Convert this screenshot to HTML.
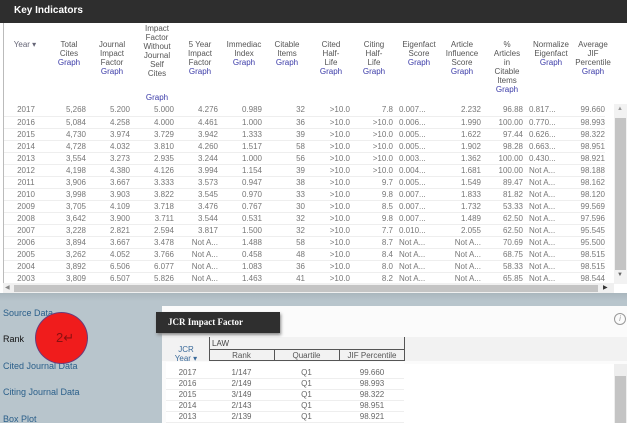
<!DOCTYPE html><html><head><style>
*{margin:0;padding:0;box-sizing:border-box}
body{width:627px;height:423px;overflow:hidden;background:#fff;font-family:"Liberation Sans",sans-serif;position:relative}
.a{position:absolute}
.hd{font-size:8px;color:#555;text-align:center;line-height:9px}
.g{color:#3a3aa8}
table.d{position:absolute;left:4px;top:104px;border-collapse:collapse;font-size:8px;color:#777}
table.d td{height:12px;border-bottom:1px solid #eee;text-align:right;padding:0;white-space:nowrap;overflow:hidden}
table.d td.l{text-align:left;padding-left:6px}
.side{font-size:9px;color:#2a5f8a}
table.r{position:absolute;left:166px;top:367px;border-collapse:collapse;font-size:8px;color:#666}
table.r td{height:11px;text-align:center;border-bottom:1px solid #eee}
</style></head><body>
<div class="a" style="left:0;top:0;width:627px;height:23px;background:#2e2e2e"></div>
<div class="a" style="left:14px;top:5px;color:#fff;font-weight:bold;font-size:10px">Key Indicators</div>
<div class="a" style="left:3px;top:23px;width:1px;height:262px;background:#bbb"></div>
<div class="a hd" style="left:6px;top:40px;width:38px;color:#667">Year ▾</div>
<div class="a hd" style="left:50px;top:40px;width:38px">Total<br>Cites<br><span class="g">Graph</span></div>
<div class="a hd" style="left:92px;top:40px;width:40px">Journal<br>Impact<br>Factor<br><span class="g">Graph</span></div>
<div class="a hd" style="left:136px;top:24px;width:42px">Impact<br>Factor<br>Without<br>Journal<br>Self<br>Cites</div>
<div class="a hd g" style="left:136px;top:93px;width:42px">Graph</div>
<div class="a hd" style="left:180px;top:40px;width:40px">5 Year<br>Impact<br>Factor<br><span class="g">Graph</span></div>
<div class="a hd" style="left:222px;top:40px;width:44px">Immediac<br>Index<br><span class="g">Graph</span></div>
<div class="a hd" style="left:268px;top:40px;width:38px">Citable<br>Items<br><span class="g">Graph</span></div>
<div class="a hd" style="left:312px;top:40px;width:38px">Cited<br>Half-<br>Life<br><span class="g">Graph</span></div>
<div class="a hd" style="left:355px;top:40px;width:38px">Citing<br>Half-<br>Life<br><span class="g">Graph</span></div>
<div class="a hd" style="left:397px;top:40px;width:44px">Eigenfact<br>Score<br><span class="g">Graph</span></div>
<div class="a hd" style="left:441px;top:40px;width:42px">Article<br>Influence<br>Score<br><span class="g">Graph</span></div>
<div class="a hd" style="left:487px;top:40px;width:40px">%<br>Articles<br>in<br>Citable<br>Items<br><span class="g">Graph</span></div>
<div class="a hd" style="left:529px;top:40px;width:44px">Normalize<br>Eigenfact<br><span class="g">Graph</span></div>
<div class="a hd" style="left:573px;top:40px;width:40px">Average<br>JIF<br>Percentile<br><span class="g">Graph</span></div>
<table class="d">
<colgroup><col style="width:44px"><col style="width:38px"><col style="width:44px"><col style="width:44px"><col style="width:44px"><col style="width:44px"><col style="width:43px"><col style="width:45px"><col style="width:43px"><col style="width:42px"><col style="width:46px"><col style="width:42px"><col style="width:44px"><col style="width:38px"></colgroup>
<tr><td style="text-align:center">2017</td><td>5,268</td><td>5.200</td><td>5.000</td><td>4.276</td><td>0.989</td><td>32</td><td>&gt;10.0</td><td>7.8</td><td class="l">0.007...</td><td>2.232</td><td>96.88</td><td class="l">0.817...</td><td>99.660</td></tr>
<tr><td style="text-align:center">2016</td><td>5,084</td><td>4.258</td><td>4.000</td><td>4.461</td><td>1.000</td><td>36</td><td>&gt;10.0</td><td>&gt;10.0</td><td class="l">0.006...</td><td>1.990</td><td>100.00</td><td class="l">0.770...</td><td>98.993</td></tr>
<tr><td style="text-align:center">2015</td><td>4,730</td><td>3.974</td><td>3.729</td><td>3.942</td><td>1.333</td><td>39</td><td>&gt;10.0</td><td>&gt;10.0</td><td class="l">0.005...</td><td>1.622</td><td>97.44</td><td class="l">0.626...</td><td>98.322</td></tr>
<tr><td style="text-align:center">2014</td><td>4,728</td><td>4.032</td><td>3.810</td><td>4.260</td><td>1.517</td><td>58</td><td>&gt;10.0</td><td>&gt;10.0</td><td class="l">0.005...</td><td>1.902</td><td>98.28</td><td class="l">0.663...</td><td>98.951</td></tr>
<tr><td style="text-align:center">2013</td><td>3,554</td><td>3.273</td><td>2.935</td><td>3.244</td><td>1.000</td><td>56</td><td>&gt;10.0</td><td>&gt;10.0</td><td class="l">0.003...</td><td>1.362</td><td>100.00</td><td class="l">0.430...</td><td>98.921</td></tr>
<tr><td style="text-align:center">2012</td><td>4,198</td><td>4.380</td><td>4.126</td><td>3.994</td><td>1.154</td><td>39</td><td>&gt;10.0</td><td>&gt;10.0</td><td class="l">0.004...</td><td>1.681</td><td>100.00</td><td class="l">Not A...</td><td>98.188</td></tr>
<tr><td style="text-align:center">2011</td><td>3,906</td><td>3.667</td><td>3.333</td><td>3.573</td><td>0.947</td><td>38</td><td>&gt;10.0</td><td>9.7</td><td class="l">0.005...</td><td>1.549</td><td>89.47</td><td class="l">Not A...</td><td>98.162</td></tr>
<tr><td style="text-align:center">2010</td><td>3,998</td><td>3.903</td><td>3.822</td><td>3.545</td><td>0.970</td><td>33</td><td>&gt;10.0</td><td>9.8</td><td class="l">0.007...</td><td>1.833</td><td>81.82</td><td class="l">Not A...</td><td>98.120</td></tr>
<tr><td style="text-align:center">2009</td><td>3,705</td><td>4.109</td><td>3.718</td><td>3.476</td><td>0.767</td><td>30</td><td>&gt;10.0</td><td>8.5</td><td class="l">0.007...</td><td>1.732</td><td>53.33</td><td class="l">Not A...</td><td>99.569</td></tr>
<tr><td style="text-align:center">2008</td><td>3,642</td><td>3.900</td><td>3.711</td><td>3.544</td><td>0.531</td><td>32</td><td>&gt;10.0</td><td>9.8</td><td class="l">0.007...</td><td>1.489</td><td>62.50</td><td class="l">Not A...</td><td>97.596</td></tr>
<tr><td style="text-align:center">2007</td><td>3,228</td><td>2.821</td><td>2.594</td><td>3.817</td><td>1.500</td><td>32</td><td>&gt;10.0</td><td>7.7</td><td class="l">0.010...</td><td>2.055</td><td>62.50</td><td class="l">Not A...</td><td>95.545</td></tr>
<tr><td style="text-align:center">2006</td><td>3,894</td><td>3.667</td><td>3.478</td><td>Not A...</td><td>1.488</td><td>58</td><td>&gt;10.0</td><td>8.7</td><td class="l">Not A...</td><td>Not A...</td><td>70.69</td><td class="l">Not A...</td><td>95.500</td></tr>
<tr><td style="text-align:center">2005</td><td>3,262</td><td>4.052</td><td>3.766</td><td>Not A...</td><td>0.458</td><td>48</td><td>&gt;10.0</td><td>8.4</td><td class="l">Not A...</td><td>Not A...</td><td>68.75</td><td class="l">Not A...</td><td>98.515</td></tr>
<tr><td style="text-align:center">2004</td><td>3,892</td><td>6.506</td><td>6.077</td><td>Not A...</td><td>1.083</td><td>36</td><td>&gt;10.0</td><td>8.0</td><td class="l">Not A...</td><td>Not A...</td><td>58.33</td><td class="l">Not A...</td><td>98.515</td></tr>
<tr><td style="text-align:center">2003</td><td>3,809</td><td>6.507</td><td>5.826</td><td>Not A...</td><td>1.463</td><td>41</td><td>&gt;10.0</td><td>8.2</td><td class="l">Not A...</td><td>Not A...</td><td>65.85</td><td class="l">Not A...</td><td>98.544</td></tr>
</table>
<div class="a" style="left:614px;top:104px;width:13px;height:180px;background:#f2f2f2"></div>
<div class="a" style="left:615px;top:118px;width:11px;height:152px;background:#c4c4c4"></div>
<div class="a" style="left:617px;top:106px;font-size:6px;color:#999">▲</div>
<div class="a" style="left:617px;top:272px;font-size:6px;color:#666">▼</div>
<div class="a" style="left:3px;top:283px;width:611px;height:10px;background:#f0f0f0"></div>
<div class="a" style="left:14px;top:285px;width:584px;height:7px;background:#c4c4c4"></div>
<div class="a" style="left:5px;top:284px;font-size:6px;color:#888">◀</div>
<div class="a" style="left:603px;top:284px;font-size:6px;color:#333">▶</div>
<div class="a" style="left:0;top:293px;width:627px;height:130px;background:#b8c5cc"></div>
<div class="a" style="left:0;top:293px;width:627px;height:8px;background:linear-gradient(#a9b6bd,#b8c5cc)"></div>
<div class="a side" style="left:3px;top:308px">Source Data</div>
<div class="a" style="left:3px;top:334px;font-size:9px;color:#111">Rank</div>
<div class="a side" style="left:3px;top:361px">Cited Journal Data</div>
<div class="a side" style="left:3px;top:387px">Citing Journal Data</div>
<div class="a side" style="left:3px;top:414px">Box Plot</div>
<div class="a" style="left:35px;top:312px;width:53px;height:52px;border-radius:50%;background:#f01c1c;border:1px solid #6a3c7a"></div>
<div class="a" style="left:56px;top:330px;font-size:13px;color:#8a1010">2↵</div>
<div class="a" style="left:162px;top:306px;width:465px;height:117px;background:#fbfbfb"></div>
<div class="a" style="left:162px;top:337px;width:465px;height:24px;background:#f2f2f2"></div>
<div class="a" style="left:156px;top:312px;width:124px;height:21px;background:#2f2f2f;box-shadow:1px 2px 3px #888"></div>
<div class="a" style="left:168px;top:317px;color:#fff;font-weight:bold;font-size:9px;font-family:'Liberation Serif',serif">JCR Impact Factor</div>
<div class="a" style="left:614px;top:313px;width:12px;height:12px;border:1px solid #999;border-radius:50%;font-size:8px;color:#999;text-align:center;font-style:italic;line-height:10px">i</div>
<div class="a" style="left:172px;top:345px;font-size:8px;color:#3a6a9a;text-align:center;line-height:9px;width:28px">JCR<br>Year ▾</div>
<div class="a" style="left:209px;top:337px;width:196px;height:24px;border:1px solid #555;border-top:none"></div>
<div class="a" style="left:209px;top:349px;width:196px;height:1px;background:#555"></div>
<div class="a" style="left:274px;top:349px;width:1px;height:12px;background:#555"></div>
<div class="a" style="left:339px;top:349px;width:1px;height:12px;background:#555"></div>
<div class="a" style="left:212px;top:339px;font-size:8px;color:#444">LAW</div>
<div class="a" style="left:209px;top:351px;width:65px;text-align:center;font-size:8px;color:#555">Rank</div>
<div class="a" style="left:274px;top:351px;width:65px;text-align:center;font-size:8px;color:#555">Quartile</div>
<div class="a" style="left:339px;top:351px;width:66px;text-align:center;font-size:8px;color:#555">JIF Percentile</div>
<div class="a" style="left:166px;top:362px;width:238px;height:61px;background:#fff"></div>
<table class="r"><colgroup><col style="width:43px"><col style="width:65px"><col style="width:65px"><col style="width:66px"></colgroup>
<tr><td>2017</td><td>1/147</td><td>Q1</td><td>99.660</td></tr>
<tr><td>2016</td><td>2/149</td><td>Q1</td><td>98.993</td></tr>
<tr><td>2015</td><td>3/149</td><td>Q1</td><td>98.322</td></tr>
<tr><td>2014</td><td>2/143</td><td>Q1</td><td>98.951</td></tr>
<tr><td>2013</td><td>2/139</td><td>Q1</td><td>98.921</td></tr>
</table>
<div class="a" style="left:404px;top:364px;width:210px;height:59px;background:#fff"></div>
<div class="a" style="left:614px;top:364px;width:13px;height:59px;background:#eee"></div>
<div class="a" style="left:615px;top:376px;width:11px;height:47px;background:#c4c4c4"></div>
</body></html>
